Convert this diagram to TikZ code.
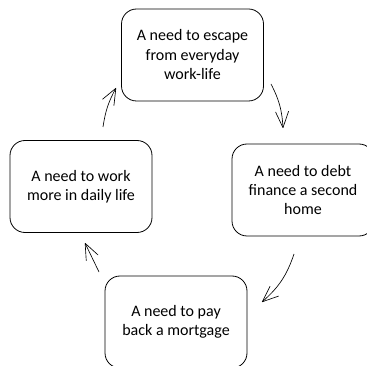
\documentclass[tikz,border=0pt]{standalone}
\usepackage{fontspec}
\setmainfont{Carlito}
\usetikzlibrary{arrows.meta}
\begin{document}
\begin{tikzpicture}[x=1pt,y=-1pt,
  stage/.style={draw=black, line width=0.8pt, rounded corners=15pt,
    minimum width=142pt, minimum height=92pt, align=center,
    font=\fontsize{16}{19.5}\selectfont, inner sep=0pt},
  flow/.style={line width=0.65pt,
    -{Straight Barb[length=16pt,width=13pt,line width=0.65pt,round]}}]
\useasboundingbox (0,0) rectangle (367,366);

% the four stages of the cycle
\node[stage] (escape)   at (192.5,55)  {A need to escape\\from everyday\\work-life};
\node[stage] (debt)     at (303,190)   {A need to debt\\finance a second\\home};
\node[stage] (mortgage) at (176,322)   {A need to pay\\back a mortgage};
\node[stage] (work)     at (81,186.5)  {A need to work\\more in daily life};

% free ends of the arrows between stages
\coordinate (a1s) at (103,127); \coordinate (a1e) at (116,88);
\coordinate (a2s) at (271,84);  \coordinate (a2e) at (283,128);
\coordinate (a3s) at (294,254); \coordinate (a3e) at (262,302);
\coordinate (a4s) at (99,272);  \coordinate (a4e) at (85,243);

\draw[flow] (a1s) to[bend left=10] (a1e);
\draw[flow] (a2s) to[bend left=12] (a2e);
\draw[flow] (a3s) to[bend left=15] (a3e);
\draw[flow] (a4s) -- (a4e);
\end{tikzpicture}
\end{document}
